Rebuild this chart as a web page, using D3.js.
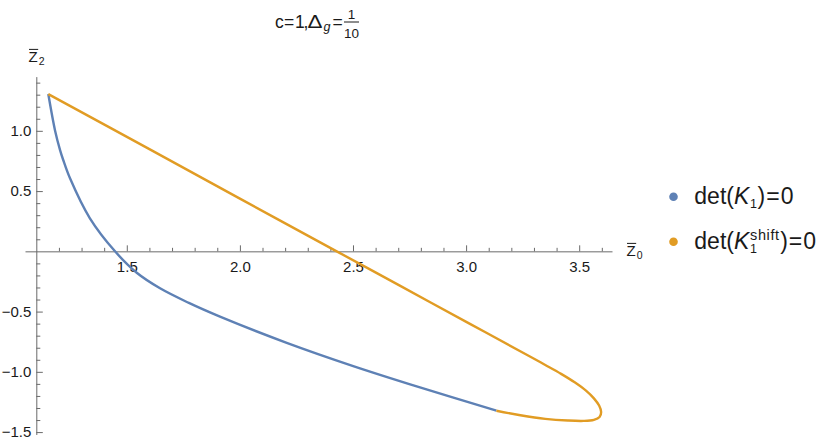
<!DOCTYPE html>
<html><head><meta charset="utf-8">
<script src="https://cdn.jsdelivr.net/npm/d3@7"></script>
<style>
body{margin:0;background:#fff}
text{font-family:"Liberation Sans",Arial,sans-serif;fill:#1a1a1a}
</style>
</head><body>
<svg id="chart" width="830" height="445"></svg>
<script>
// ---- data ----
const blueX = [1.153, 1.183, 1.205, 1.219, 1.249, 1.337, 1.448, 1.544, 1.647, 1.772, 1.912, 2.207, 2.501, 2.796, 3.134];
const blueY = [1.305, 1.001, 0.840, 0.758, 0.606, 0.274, 0.000, -0.178, -0.307, -0.426, -0.542, -0.759, -0.952, -1.129, -1.322];
const orangeX = [1.153, 1.602, 2.000, 2.428, 2.707, 3.017, 3.268, 3.350, 3.420, 3.480, 3.530, 3.565, 3.588, 3.597, 3.590, 3.565, 3.520, 3.450, 3.350, 3.240, 3.134];
const orangeY = [1.305, 0.846, 0.437, 0.000, -0.285, -0.602, -0.858, -0.943, -1.017, -1.087, -1.156, -1.220, -1.280, -1.333, -1.375, -1.398, -1.407, -1.404, -1.390, -1.360, -1.323];
const xMajorTicks = [1.5, 2.0, 2.5, 3.0, 3.5];
const yMajorTicks = [-1.5, -1.0, -0.5, 0.5, 1.0];
const xMinorTicks = [1.2,1.3,1.4,1.6,1.7,1.8,1.9,2.1,2.2,2.3,2.4,2.6,2.7,2.8,2.9,3.1,3.2,3.3,3.4,3.6];
const yMinorTicks = [-1.4,-1.3,-1.2,-1.1,-0.9,-0.8,-0.7,-0.6,-0.4,-0.3,-0.2,-0.1,0.1,0.2,0.3,0.4,0.6,0.7,0.8,0.9,1.1,1.2,1.3,1.4];
const seriesColors = ["#5E81B5", "#E19C24"];

const svg = d3.select("#chart");
const x = d3.scaleLinear().domain([1.05, 3.645]).range([25, 612]);
const y = d3.scaleLinear().domain([-1.52, 1.45]).range([434.5, 76.6]);
const axisColor = "#6a6a6a";

// x axis (ticks inward / upward, labels below)
const gx = svg.append("g").attr("transform", `translate(0,${y(0)})`);
gx.call(d3.axisBottom(x).tickValues(xMajorTicks).tickFormat(d3.format(".1f")).tickSizeInner(-6).tickSizeOuter(0).tickPadding(10));
const gxm = svg.append("g").attr("transform", `translate(0,${y(0)})`);
gxm.call(d3.axisBottom(x).tickValues(xMinorTicks).tickFormat("").tickSizeInner(-3.5).tickSizeOuter(0));
gxm.select(".domain").remove();

// y axis at x = 1.1
const gy = svg.append("g").attr("transform", `translate(${x(1.1)},0)`);
gy.call(d3.axisLeft(y).tickValues(yMajorTicks).tickFormat(d3.format(".1f")).tickSizeInner(-6.5).tickSizeOuter(0).tickPadding(5));
const gym = svg.append("g").attr("transform", `translate(${x(1.1)},0)`);
gym.call(d3.axisLeft(y).tickValues(yMinorTicks).tickFormat("").tickSizeInner(-4).tickSizeOuter(0));
gym.select(".domain").remove();

svg.selectAll(".domain, .tick line").attr("stroke", axisColor);
svg.selectAll(".tick text").attr("font-size", 15).attr("font-family", '"Liberation Sans",Arial,sans-serif').attr("fill", "#1a1a1a");

// curves
const line = d3.line().x(d => x(d[0])).y(d => y(d[1])).curve(d3.curveCatmullRom.alpha(0.5));
const blue = blueX.map((v, i) => [v, blueY[i]]);
const orange = orangeX.map((v, i) => [v, orangeY[i]]);
svg.append("path").datum(blue).attr("d", line).attr("fill", "none").attr("stroke", seriesColors[0]).attr("stroke-width", 2.4);
svg.append("path").datum(orange).attr("d", line).attr("fill", "none").attr("stroke", seriesColors[1]).attr("stroke-width", 2.4);

// axis labels (Z with overbar)
function barLabel(xp, yp, sub, size, subSize) {
  const t = svg.append("text").attr("x", xp).attr("y", yp).attr("font-size", size).text("Z");
  const w = t.node().getComputedTextLength();
  svg.append("line").attr("x1", xp + 0.5).attr("x2", xp + w + 0.5).attr("y1", yp - size * 0.84).attr("y2", yp - size * 0.84)
    .attr("stroke", "#1a1a1a").attr("stroke-width", 1);
  svg.append("text").attr("x", xp + w + 1).attr("y", yp + 3).attr("font-size", subSize).text(sub);
}
barLabel(28.5, 62, "2", 15, 10.5);
barLabel(626.5, 256, "0", 15, 10.5);

// title
const tfs = 17.5;
const title = svg.append("text").attr("y", 28).attr("font-size", tfs);
title.append("tspan").attr("x", 275).text("c");
title.append("tspan").attr("x", 284).text("=");
title.append("tspan").attr("x", 295).text("1");
title.append("tspan").attr("x", 303.5).text(",");
svg.append("text").attr("x", 307.5).attr("y", 28).attr("font-size", tfs).attr("textLength", 15).attr("lengthAdjust", "spacingAndGlyphs").text("Δ");
svg.append("text").attr("x", 323.5).attr("y", 31).attr("font-size", 12.5).attr("font-style", "italic").text("g");
svg.append("text").attr("x", 332.5).attr("y", 28).attr("font-size", tfs).text("=");
svg.append("text").attr("x", 351.5).attr("y", 18.5).attr("font-size", 13.5).attr("text-anchor", "middle").text("1");
svg.append("line").attr("x1", 344).attr("x2", 359).attr("y1", 22).attr("y2", 22).attr("stroke", "#1a1a1a").attr("stroke-width", 1);
svg.append("text").attr("x", 351.5).attr("y", 38).attr("font-size", 13.5).attr("text-anchor", "middle").text("10");

// legend
const lx = 673.5, ly = [196.7, 241.7];
ly.forEach((yy, i) => svg.append("circle").attr("cx", lx).attr("cy", yy).attr("r", 4.3).attr("fill", seriesColors[i]));
function piece(xp, yp, fs, txt, italic, ls) {
  const t = svg.append("text").attr("x", xp).attr("y", yp).attr("font-size", fs).text(txt);
  if (italic) t.attr("font-style", "italic");
  if (ls) t.attr("letter-spacing", ls);
  return xp + t.node().getComputedTextLength();
}
function legendEntry(base, sup) {
  const fs = 23;
  let xx = piece(694.3, base, fs, "det(");
  xx = piece(xx, base, fs, "K", true);
  let xs = piece(xx + 0.8, base + 4.8, 12.5, "1");
  if (sup) xs = Math.max(xs, piece(xx + 0.8, base - 8.5, 14.5, sup, false, 0.6));
  xx = piece(xs + 0.5, base, fs, ")");
  xx = piece(xx + 1, base, fs, "=");
  piece(xx + 1, base, fs, "0");
}
legendEntry(203.5, null);
legendEntry(248.5, "shift");
</script>
</body></html>
